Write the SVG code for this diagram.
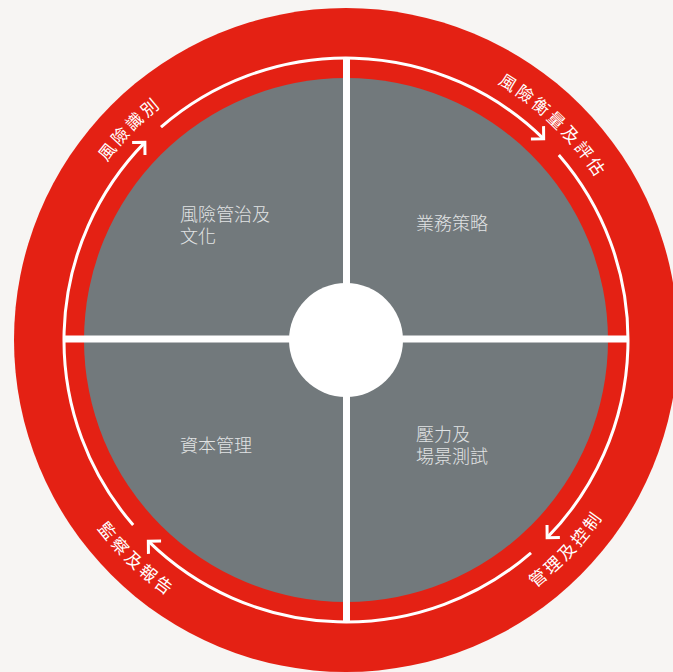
<svg xmlns="http://www.w3.org/2000/svg" width="673" height="672" viewBox="0 0 673 672">
  <defs>
    <style>
      .band { font-family: "Noto Sans CJK TC", "Noto Sans CJK SC", sans-serif; font-size: 17px; fill: #ffffff; letter-spacing: 3px; font-weight: 400; }
      .inner { font-family: "Noto Sans CJK TC", "Noto Sans CJK SC", sans-serif; font-size: 18px; fill: #e1e3e4; font-weight: 300; }
      .ring { fill: none; stroke: #ffffff; stroke-width: 3; }
      .cross { stroke: #ffffff; stroke-width: 7; }
    </style>
    <marker id="chev" markerUnits="userSpaceOnUse" markerWidth="30" markerHeight="30" refX="0" refY="0" orient="auto" overflow="visible">
      <path d="M-9,-9 L0,0 L-9,9" fill="none" stroke="#ffffff" stroke-width="3"/>
    </marker>
    <!-- top-left label path: radius 298 centred at 224.3deg, clockwise -->
    <path id="pathTL" d="M 57.23,266.39 A 298,298 0 0 1 265.36,53.12"/>
    <!-- top-right label path: radius 298 centred at 314deg, clockwise -->
    <path id="pathTR" d="M 418.09,50.85 A 298,298 0 0 1 632.46,257.86"/>
    <!-- bottom-left label path: radius 312 centred at 133.7deg, counter-clockwise -->
    <path id="pathBL" d="M 46.54,427.57 A 312,312 0 0 0 272.11,643.12"/>
    <!-- bottom-right label path: radius 312 centred at 43.5deg, counter-clockwise -->
    <path id="pathBR" d="M 434.61,639.15 A 312,312 0 0 0 649.38,412.84"/>
  </defs>
  <rect width="673" height="672" fill="#f7f5f3"/>
  <circle cx="346" cy="340" r="332" fill="#e42114"/>
  <circle cx="346" cy="340" r="262" fill="#72797c"/>

  <g id="connectors">
    <path class="ring" d="M531.01,552.83 A282,282 0 0 1 148.34,541.14" marker-end="url(#chev)"/>
    <path class="ring" d="M133.17,525.01 A282,282 0 0 1 144.86,142.34" marker-end="url(#chev)"/>
    <path class="ring" d="M160.99,127.17 A282,282 0 0 1 543.66,138.86" marker-end="url(#chev)"/>
    <path class="ring" d="M558.83,154.99 A282,282 0 0 1 547.14,537.66" marker-end="url(#chev)"/>
    <line class="cross" x1="64" y1="339" x2="628" y2="339"/>
    <line class="cross" x1="346.5" y1="58" x2="346.5" y2="622"/>
  </g>

  <g id="hub">
    <circle cx="346" cy="340" r="57" fill="#ffffff"/>
  </g>

  <g id="node-governance">
    <text class="inner" x="180" y="221">風險管治及</text>
    <text class="inner" x="180" y="243">文化</text>
  </g>
  <g id="node-strategy">
    <text class="inner" x="416" y="230">業務策略</text>
  </g>
  <g id="node-capital">
    <text class="inner" x="180" y="452">資本管理</text>
  </g>
  <g id="node-stress">
    <text class="inner" x="416" y="441">壓力及</text>
    <text class="inner" x="416" y="463">場景測試</text>
  </g>

  <g id="label-identify">
    <text class="band"><textPath href="#pathTL" startOffset="50%" text-anchor="middle">風險識別</textPath></text>
  </g>
  <g id="label-assess">
    <text class="band"><textPath href="#pathTR" startOffset="50%" text-anchor="middle">風險衡量及評估</textPath></text>
  </g>
  <g id="label-control">
    <text class="band"><textPath href="#pathBR" startOffset="50%" text-anchor="middle">管理及控制</textPath></text>
  </g>
  <g id="label-monitor">
    <text class="band"><textPath href="#pathBL" startOffset="50%" text-anchor="middle">監察及報告</textPath></text>
  </g>
</svg>
